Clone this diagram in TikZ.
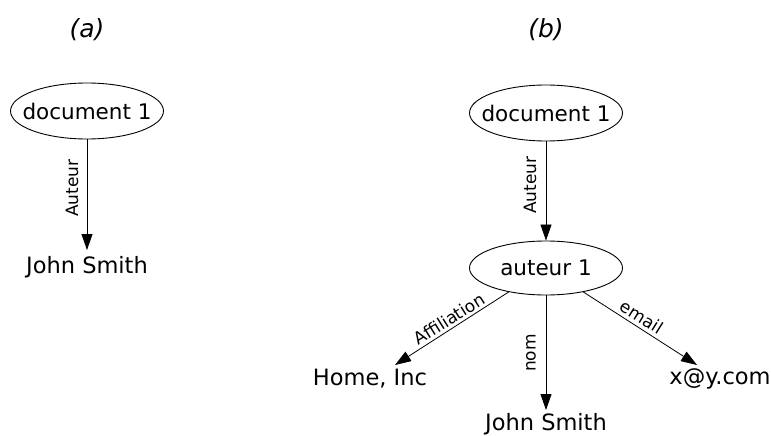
\documentclass[tikz,border=0pt]{standalone}
\usepackage{fontspec}
\setmainfont{DejaVu Sans}
\usetikzlibrary{arrows.meta,shapes.geometric}
\begin{document}
\begin{tikzpicture}[x=1pt,y=-1pt,
  every node/.style={font=\fontsize{22.5}{27}\selectfont},
  ell/.style={draw,ellipse,line width=0.9pt,minimum width=153pt,minimum height=56pt,inner xsep=-14pt,inner ysep=0pt,font=\fontsize{21.5}{26}\selectfont},
  txt/.style={inner xsep=1pt,inner ysep=6pt},
  edge/.style={line width=0.8pt,-{Triangle[length=16pt,width=11pt]}},
  elabel/.style={font=\fontsize{17}{20}\selectfont,inner sep=0pt},
  captxt/.style={font=\fontsize{25}{30}\selectfont\itshape}]
\path[use as bounding box] (0,0) rectangle (771,436);
% (a)
\node[captxt] (capa) at (87,30) {(a)};
\node[ell] (docA) at (87,111) {document 1};
\node[txt,anchor=north] (jsA) at (87,250) {John Smith};
\draw[edge] (docA.south) -- (jsA.north);
\node[elabel,rotate=90] (lauta) at (72,188) {Auteur};
% (b)
\node[captxt] (capb) at (546,30) {(b)};
\node[ell] (docB) at (546,113) {document 1};
\node[ell,minimum height=54pt] (aut) at (546,268) {auteur 1};
\draw[edge] (docB.south) -- (aut.north);
\node[elabel,rotate=90] (lautb) at (530,185) {Auteur};
\node[txt] (home) at (370,379) {Home, Inc};
\node[txt] (mail) at (720,379) {x@y.com};
\node[txt,anchor=north,inner ysep=3pt] (jsB) at (546,410) {John Smith};
\coordinate (tipH) at (395,365);
\coordinate (tipM) at (697,365);
\draw[edge] (aut) -- (tipH);
\draw[edge] (aut) -- (tipM);
\draw[edge] (aut.south) -- (jsB.north);
\node[elabel,rotate=32] (laff) at (449,319) {Affiliation};
\node[elabel,rotate=-32] (lmail) at (642,317) {email};
\node[elabel,rotate=90] (lnom) at (531,353) {nom};
\end{tikzpicture}
\end{document}
